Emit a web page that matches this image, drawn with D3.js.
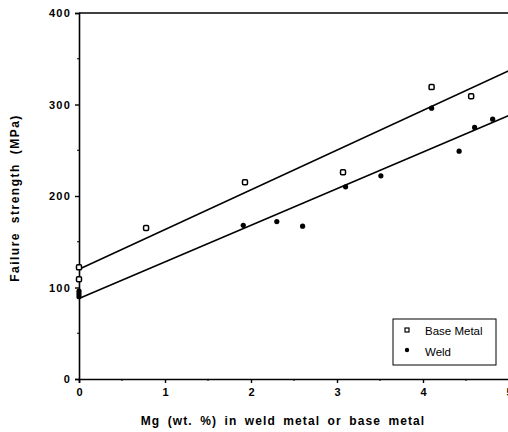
<!DOCTYPE html>
<html>
<head>
<meta charset="utf-8">
<script src="https://cdn.jsdelivr.net/npm/d3@7"></script>
<style>
  body { margin: 0; background: #fff; }
  svg { display: block; }
  text { font-family: "Liberation Sans", Arial, sans-serif; fill: #000; }
</style>
</head>
<body>
<svg id="chart"></svg>
<script>
// Failure strength vs Mg content

var baseX = [0, 0, 0.78, 1.93, 3.07, 4.10, 4.56],
    baseY = [122, 109, 165, 215, 226, 319, 309];

var weldX = [0, 0, 0, 1.91, 2.30, 2.60, 3.10, 3.51, 4.10, 4.42, 4.60, 4.81],
    weldY = [96, 93, 90, 168, 172, 167, 210, 222, 296, 249, 275, 284];

// fitted lines, end points at x = 0 and x = 5
var fitX = [0, 5],
    baseFit = [120, 337],
    weldFit = [88, 288];

var xTicks = [0, 1, 2, 3, 4, 5],
    yTicks = [0, 100, 200, 300, 400];

var width = 508,
    height = 432;

var svg = d3.select("#chart")
    .attr("width", width)
    .attr("height", height);

var x = d3.scaleLinear().domain([0, 5]).range([79, 509]);
var y = d3.scaleLinear().domain([0, 400]).range([379, 13]);

// axes
var xAxis = d3.axisBottom(x)
    .tickValues(xTicks)
    .tickSize(4)
    .tickPadding(5)
    .tickFormat(d3.format("d"));

var yAxis = d3.axisLeft(y)
    .tickValues(yTicks)
    .tickSize(4)
    .tickPadding(4)
    .tickFormat(d3.format("d"));

var gx = svg.append("g")
    .attr("transform", "translate(0," + y(0) + ")")
    .call(xAxis);

var gy = svg.append("g")
    .attr("transform", "translate(" + x(0) + ",0)")
    .call(yAxis);

[gx, gy].forEach(function (g) {
    g.select(".domain").attr("stroke", "#000").attr("stroke-width", 1.6);
    g.selectAll(".tick line").attr("stroke", "#000").attr("stroke-width", 1.4);
    g.selectAll(".tick text")
        .style("font-size", "11px")
        .style("font-weight", "bold")
        .style("font-family", "'Liberation Sans', Arial, sans-serif");
});
gy.selectAll(".tick text").style("letter-spacing", "1.2px");

// minor ticks
svg.selectAll(".minorx")
    .data([0.5, 1.5, 2.5, 3.5, 4.5])
    .enter()
    .append("line")
    .attr("x1", function (d) { return x(d); })
    .attr("x2", function (d) { return x(d); })
    .attr("y1", y(0))
    .attr("y2", y(0) + 2)
    .attr("stroke", "#000");

svg.selectAll(".minory")
    .data([50, 150, 250, 350])
    .enter()
    .append("line")
    .attr("x1", x(0))
    .attr("x2", x(0) - 2)
    .attr("y1", function (d) { return y(d); })
    .attr("y2", function (d) { return y(d); })
    .attr("stroke", "#000");

// top frame line
svg.append("line")
    .attr("x1", x(0))
    .attr("x2", x(5))
    .attr("y1", y(400))
    .attr("y2", y(400))
    .attr("stroke", "#000")
    .attr("stroke-width", 1.6);

// fit lines
var line = d3.line()
    .x(function (d) { return x(d[0]); })
    .y(function (d) { return y(d[1]); });

svg.append("path")
    .datum(d3.zip(fitX, baseFit))
    .attr("d", line)
    .attr("fill", "none")
    .attr("stroke", "#000")
    .attr("stroke-width", 1.5);

svg.append("path")
    .datum(d3.zip(fitX, weldFit))
    .attr("d", line)
    .attr("fill", "none")
    .attr("stroke", "#000")
    .attr("stroke-width", 1.5);

// base metal points: open squares
svg.selectAll(".base")
    .data(d3.zip(baseX, baseY))
    .enter()
    .append("rect")
    .attr("x", function (d) { return x(d[0]) - 2.5; })
    .attr("y", function (d) { return y(d[1]) - 2.5; })
    .attr("width", 5)
    .attr("height", 5)
    .attr("rx", 1.2)
    .attr("fill", "#fff")
    .attr("stroke", "#000")
    .attr("stroke-width", 1.5);

// weld points: filled dots
svg.selectAll(".weld")
    .data(d3.zip(weldX, weldY))
    .enter()
    .append("circle")
    .attr("cx", function (d) { return x(d[0]); })
    .attr("cy", function (d) { return y(d[1]); })
    .attr("r", 2.6)
    .attr("fill", "#000");

// axis titles
svg.append("text")
    .attr("x", 283)
    .attr("y", 425)
    .attr("text-anchor", "middle")
    .style("font-size", "12px")
    .style("font-weight", "bold")
    .style("letter-spacing", "1.1px")
    .style("word-spacing", "3px")
    .text("Mg (wt. %) in weld metal or base metal");

svg.append("text")
    .attr("transform", "translate(19,198) rotate(-90)")
    .attr("text-anchor", "middle")
    .style("font-size", "12px")
    .style("font-weight", "bold")
    .style("letter-spacing", "1.5px")
    .style("word-spacing", "4px")
    .text("Failure strength (MPa)");

// legend
var legend = svg.append("g");

legend.append("rect")
    .attr("x", 393)
    .attr("y", 319)
    .attr("width", 103)
    .attr("height", 46)
    .attr("fill", "#fff")
    .attr("stroke", "#000")
    .attr("stroke-width", 1);

legend.append("rect")
    .attr("x", 405)
    .attr("y", 328)
    .attr("width", 4)
    .attr("height", 4)
    .attr("fill", "#fff")
    .attr("stroke", "#000")
    .attr("stroke-width", 1.2);

legend.append("circle")
    .attr("cx", 407)
    .attr("cy", 350)
    .attr("r", 2.2)
    .attr("fill", "#000");

legend.append("text")
    .attr("x", 425)
    .attr("y", 335)
    .style("font-size", "11.5px")
    .text("Base Metal");

legend.append("text")
    .attr("x", 425)
    .attr("y", 356)
    .style("font-size", "11.5px")
    .text("Weld");
</script>
</body>
</html>
